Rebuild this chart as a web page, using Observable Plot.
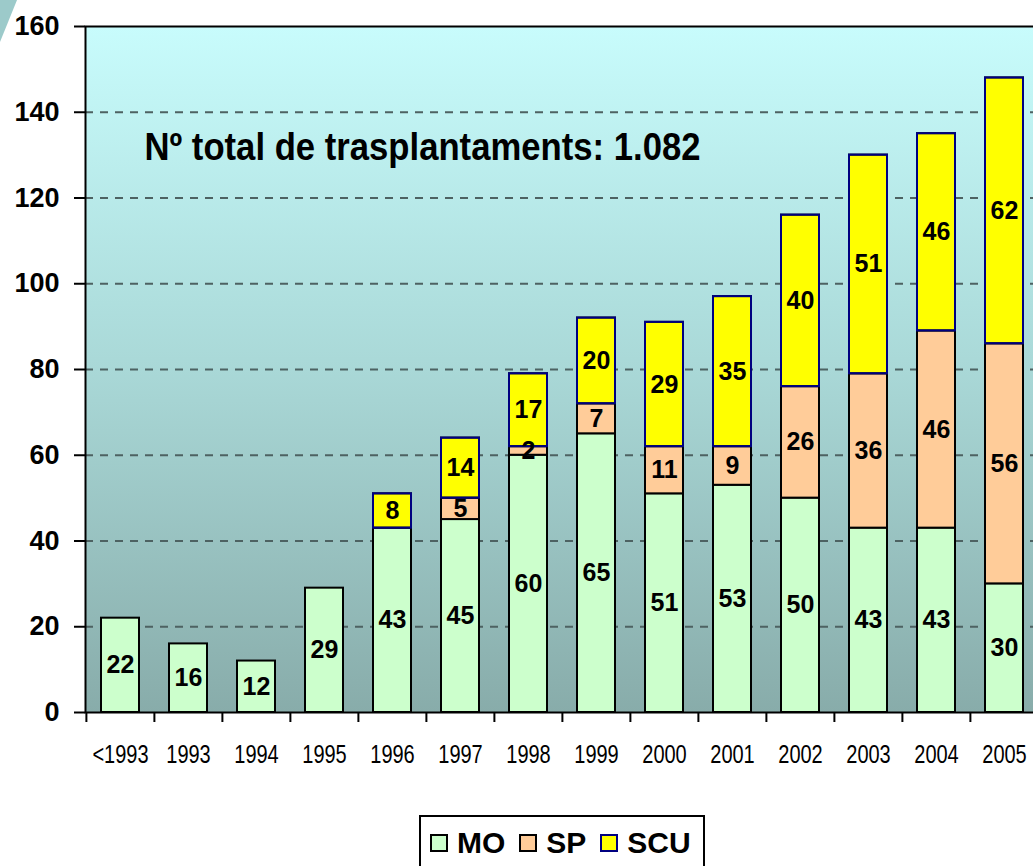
<!DOCTYPE html>
<html><head><meta charset="utf-8">
<script src="https://cdn.jsdelivr.net/npm/d3@7"></script>
<script src="https://cdn.jsdelivr.net/npm/@observablehq/plot@0.6"></script>
<style>
html,body{margin:0;padding:0;background:#fff;overflow:hidden;width:1033px;height:866px}
#wrap{position:relative;width:1033px;height:866px;overflow:hidden}
#chart{position:absolute;left:0;top:0;width:1040px}
#deco{position:absolute;left:0;top:0;width:20px;height:45px;background:#9ccaca;clip-path:polygon(0 0,17px 0,0 42px)}
#legend{position:absolute;left:419px;top:815px;width:282px;height:52px;border:2px solid #000;background:#fff;
  display:flex;align-items:center;font:bold 30px Arial,"Liberation Sans",sans-serif;color:#000}
#legend .sw{width:14px;height:14px;border:2px solid #000;margin-left:14px;margin-right:9px;flex:none}
#legend .sw:first-child{margin-left:9px}
#legend .lab{flex:none}
</style>
</head><body>
<div id="wrap">
  <div id="deco"></div>
  <div id="chart"></div>
  <div id="legend"></div>
</div>
<script>
const years = ["<1993","1993","1994","1995","1996","1997","1998","1999","2000","2001","2002","2003","2004","2005"];
const mo  = [22,16,12,29,43,45,60,65,51,53,50,43,43,30];
const sp  = [0,0,0,0,0,5,2,7,11,9,26,36,46,56];
const scu = [0,0,0,0,8,14,17,20,29,35,40,51,46,62];
const seriesNames = ["MO","SP","SCU"];
const seriesFill = ["#ccffcc","#ffcc99","#ffff00"];
const seriesStroke = ["#000000","#000000","#000080"];
const yTicks = [0,20,40,60,80,100,120,140,160];
const gridTicks = [20,40,60,80,100,120,140];
const title = "Nº total de trasplantaments: 1.082";

const rows = [];
years.forEach((yr, i) => {
  [mo, sp, scu].forEach((arr, k) => {
    if (arr[i] > 0) rows.push({year: yr, series: seriesNames[k], value: arr[i], top: k === 2 ? 1 : 0});
  });
});

const W = 1040, ML = 85, MR = 0;
const step = (W - ML - MR) / years.length;
const arial = "Arial,'Liberation Sans',sans-serif";

const chart = Plot.plot({
  width: W, height: 790,
  marginLeft: ML, marginRight: MR, marginTop: 26, marginBottom: 78,
  style: {background: "transparent", overflow: "visible", color: "#000", maxWidth: "none"},
  x: {domain: years, paddingInner: 0.44, paddingOuter: 0.2, label: null, axis: null},
  y: {domain: [0, 160], label: null, axis: null},
  color: {domain: seriesNames, range: seriesFill},
  opacity: {domain: [0, 1], range: [0, 1]},
  marks: [
    Plot.frame({fill: "url(#bgGrad)", stroke: "none"}),
    Plot.gridY(gridTicks, {stroke: "#4d6262", strokeOpacity: 1, strokeWidth: 2, strokeDasharray: "8,7"}),
    Plot.barY(rows, Plot.stackY({x: "year", y: "value", z: "series", fill: "series", stroke: "#000", strokeWidth: 2})),
    Plot.barY(rows, Plot.stackY({x: "year", y: "value", z: "series", fill: "none", stroke: seriesStroke[2], strokeOpacity: "top", strokeWidth: 2})),
    Plot.text(rows, Plot.stackY({x: "year", y: "value", z: "series", text: d => String(d.value),
      fontSize: 25, fontWeight: "bold", fontFamily: arial, fill: "#000"})),
    Plot.text([title], {frameAnchor: "top-left", text: d => d, dx: 59, dy: 107, lineAnchor: "top", textAnchor: "start",
      fontSize: 38, fontWeight: "bold", fontFamily: arial, fill: "#000"}),
    Plot.axisY(yTicks, {tickSize: 11, tickPadding: 15, fontSize: 27, fontWeight: "bold", fontFamily: arial,
      strokeWidth: 2, stroke: "#000", fill: "#000", label: null}),
    Plot.axisX({tickSize: 0, tickPadding: 33, fontSize: 25, fontFamily: arial, fill: "#000", label: null}),
    Plot.axisX({tickSize: 10, tickFormat: () => "", dx: -step / 2, strokeWidth: 2, stroke: "#000", label: null}),
    Plot.frame({stroke: "#000", strokeWidth: 2})
  ]
});

const ns = "http://www.w3.org/2000/svg";
const defs = document.createElementNS(ns, "defs");
defs.innerHTML = '<linearGradient id="bgGrad" x1="0" y1="0" x2="0" y2="1">' +
  '<stop offset="0" stop-color="#c8fcfc"/><stop offset="0.5" stop-color="#a9d8d7"/><stop offset="1" stop-color="#88acaa"/></linearGradient>';
chart.insertBefore(defs, chart.firstChild);

// condensed look for the category labels and the annotation
chart.querySelectorAll('g[aria-label="x-axis tick label"] text').forEach(t => {
  const tr = t.getAttribute("transform") || "";
  t.setAttribute("transform", tr + " scale(0.8,1)");
});
chart.querySelectorAll("text").forEach(t => {
  if (t.textContent === title) {
    t.setAttribute("textLength", "556");
    t.setAttribute("lengthAdjust", "spacingAndGlyphs");
  }
});
document.getElementById("chart").appendChild(chart);

const legend = document.getElementById("legend");
seriesNames.forEach((name, k) => {
  const sw = document.createElement("span");
  sw.className = "sw";
  sw.style.background = seriesFill[k];
  sw.style.borderColor = seriesStroke[k];
  const lab = document.createElement("span");
  lab.className = "lab";
  lab.textContent = name;
  legend.appendChild(sw);
  legend.appendChild(lab);
});
</script>
</body></html>
